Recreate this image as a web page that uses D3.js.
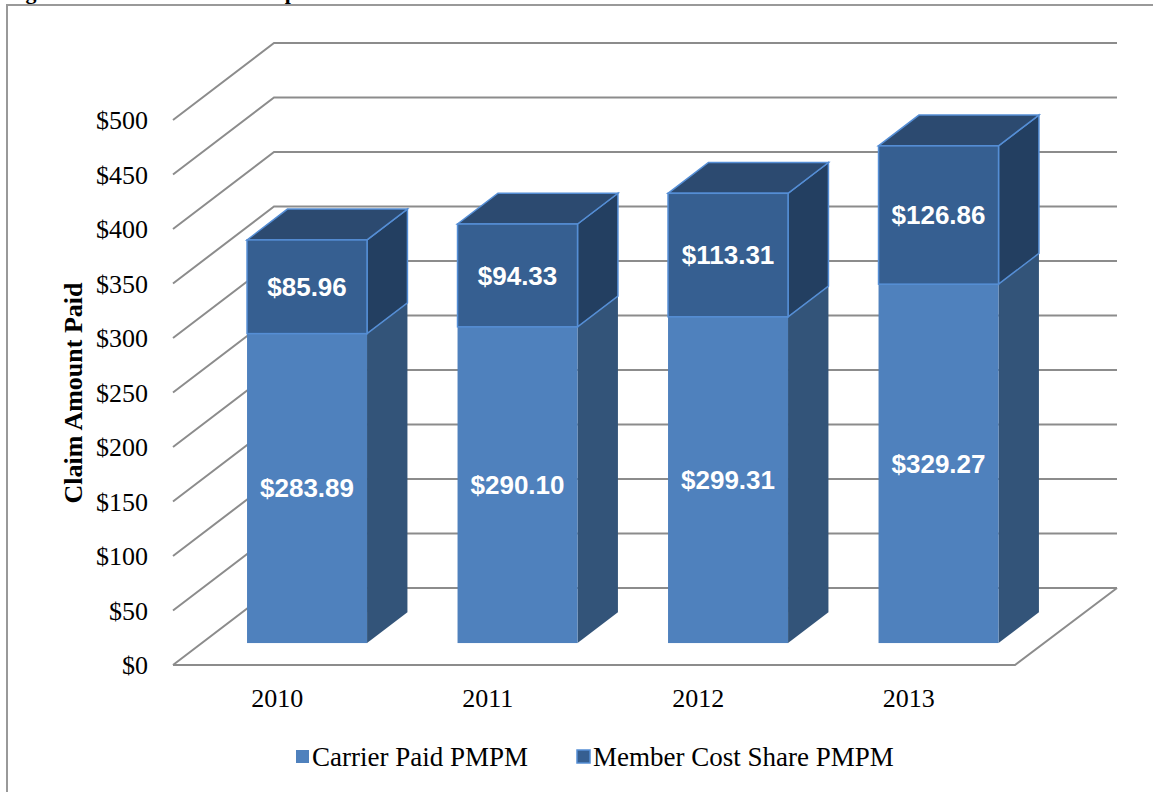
<!DOCTYPE html>
<html>
<head>
<meta charset="utf-8">
<script src="https://cdn.jsdelivr.net/npm/d3@7"></script>
<style>
  body { margin: 0; background: #fff; }
  svg { display: block; }
  .tick { font-family: "Liberation Serif", "Times New Roman", serif; font-size: 26px; fill: #000; }
  .dlabel { font-family: "Liberation Sans", Arial, sans-serif; font-size: 26px; font-weight: bold; fill: #fff; }
</style>
</head>
<body>
<div id="chart"></div>
<script>
// chart data
var years = ["2010", "2011", "2012", "2013"];
var carrierPaid = [283.89, 290.10, 299.31, 329.27];
var memberShare = [85.96, 94.33, 113.31, 126.86];
var yTicks = [0, 50, 100, 150, 200, 250, 300, 350, 400, 450, 500];
var seriesNames = ["Carrier Paid PMPM", "Member Cost Share PMPM"];

var W = 1153, H = 792;
var svg = d3.select("#chart").append("svg").attr("width", W).attr("height", H);

// front plane scales + depth offset of the 3d box
var x = d3.scaleBand().domain(years).range([173, 1015]);
var y = d3.scaleLinear().domain([0, 500]).range([665, 120]);
var depth = {dx: 101, dy: -77};
var barD0 = 0.285, barD1 = 0.685;   // bar sits in the middle of the depth
var barW = 120;
var grid = "#8c8c8c";

// frame + title (cut off at the top, like the source page)
svg.append("text")
    .attr("x", 6).attr("y", -1)
    .style("font-family", "Liberation Serif, Times New Roman, serif")
    .style("font-weight", "bold").style("font-size", "22px")
    .text("Figure 3: Insured Small Group Claims");
svg.append("path")
    .attr("d", "M7,792 L7,5 L1153,5")
    .attr("fill", "none").attr("stroke", "#999").attr("stroke-width", 2);

// gridlines: left wall diagonal + back wall horizontal
var g = svg.append("g").attr("fill", "none").attr("stroke", grid).attr("stroke-width", 2);
yTicks.forEach(function(v){
    var x0 = x.range()[0], y0 = y(v);
    g.append("path").attr("d", "M" + x0 + "," + y0 +
        " L" + (x0 + depth.dx) + "," + (y0 + depth.dy) +
        " L" + (x.range()[1] + depth.dx + 1) + "," + (y0 + depth.dy));
});
// floor front + right edge
g.append("path").attr("d", "M" + x.range()[0] + "," + y(0) +
    " L" + x.range()[1] + "," + y(0) +
    " L" + (x.range()[1] + depth.dx + 1) + "," + (y(0) + depth.dy));

// y tick labels
svg.append("g").selectAll("text").data(yTicks).join("text")
    .attr("class", "tick")
    .attr("x", 148).attr("y", function(d){ return y(d); })
    .attr("dy", "0.35em").attr("text-anchor", "end")
    .text(function(d){ return "$" + d; });

// axis title
svg.append("text")
    .attr("transform", "translate(82,393) rotate(-90)")
    .attr("text-anchor", "middle")
    .style("font-family", "Liberation Serif, Times New Roman, serif")
    .style("font-weight", "bold").style("font-size", "26px")
    .text("Claim Amount Paid");

// year labels
svg.append("g").selectAll("text").data(years).join("text")
    .attr("class", "tick")
    .attr("x", function(d){ return x(d) + x.bandwidth() / 2 - 1; })
    .attr("y", 698).attr("dy", "0.35em").attr("text-anchor", "middle")
    .text(function(d){ return d; });

function pt(px, py){ return px + "," + py; }

// draws one box segment, returns front face centre
function box(gp, cx, v0, v1, colors, stroke){
    var fx0 = cx - barW / 2 + barD0 * depth.dx, fx1 = fx0 + barW;
    var yb = y(v0) + barD0 * depth.dy, yt = y(v1) + barD0 * depth.dy;
    var ddx = (barD1 - barD0) * depth.dx, ddy = (barD1 - barD0) * depth.dy;
    var st = stroke || "none";
    // side
    gp.append("polygon")
        .attr("points", [pt(fx1, yb), pt(fx1 + ddx, yb + ddy), pt(fx1 + ddx, yt + ddy), pt(fx1, yt)].join(" "))
        .attr("fill", colors.side).attr("stroke", st).attr("stroke-width", 1.5);
    if (colors.top) {
        gp.append("polygon")
            .attr("points", [pt(fx0, yt), pt(fx1, yt), pt(fx1 + ddx, yt + ddy), pt(fx0 + ddx, yt + ddy)].join(" "))
            .attr("fill", colors.top).attr("stroke", st).attr("stroke-width", 1.5);
    }
    gp.append("rect")
        .attr("x", fx0).attr("y", yt).attr("width", barW).attr("height", yb - yt)
        .attr("fill", colors.front).attr("stroke", st).attr("stroke-width", 1.5);
    return {cx: (fx0 + fx1) / 2, cy: (yb + yt) / 2};
}

var carrierCol = {front: "#4f81bd", side: "#335479"};
var memberCol = {front: "#365f91", side: "#233f61", top: "#2c4a70"};

var bars = svg.append("g");
years.forEach(function(yr, i){
    var cx = x(yr) + x.bandwidth() / 2;
    var c = box(bars, cx, 0, carrierPaid[i], carrierCol);
    var m = box(bars, cx, carrierPaid[i], carrierPaid[i] + memberShare[i], memberCol, "#558ed5");
    bars.append("text").attr("class", "dlabel")
        .attr("x", c.cx).attr("y", c.cy).attr("dy", "0.35em").attr("text-anchor", "middle")
        .text("$" + carrierPaid[i].toFixed(2));
    bars.append("text").attr("class", "dlabel")
        .attr("x", m.cx).attr("y", m.cy).attr("dy", "0.35em").attr("text-anchor", "middle")
        .text("$" + memberShare[i].toFixed(2));
});

// legend
var legend = svg.append("g").style("font-family", "Liberation Serif, Times New Roman, serif").style("font-size", "27px");
var legX = [296, 577];
seriesNames.forEach(function(name, i){
    legend.append("rect")
        .attr("x", legX[i]).attr("y", 750).attr("width", 13).attr("height", 13)
        .attr("fill", i === 0 ? carrierCol.front : memberCol.front)
        .attr("stroke", i === 0 ? "none" : "#558ed5").attr("stroke-width", 1.5);
    legend.append("text")
        .attr("x", legX[i] + 16).attr("y", 766)
        .text(name);
});
</script>
</body>
</html>
